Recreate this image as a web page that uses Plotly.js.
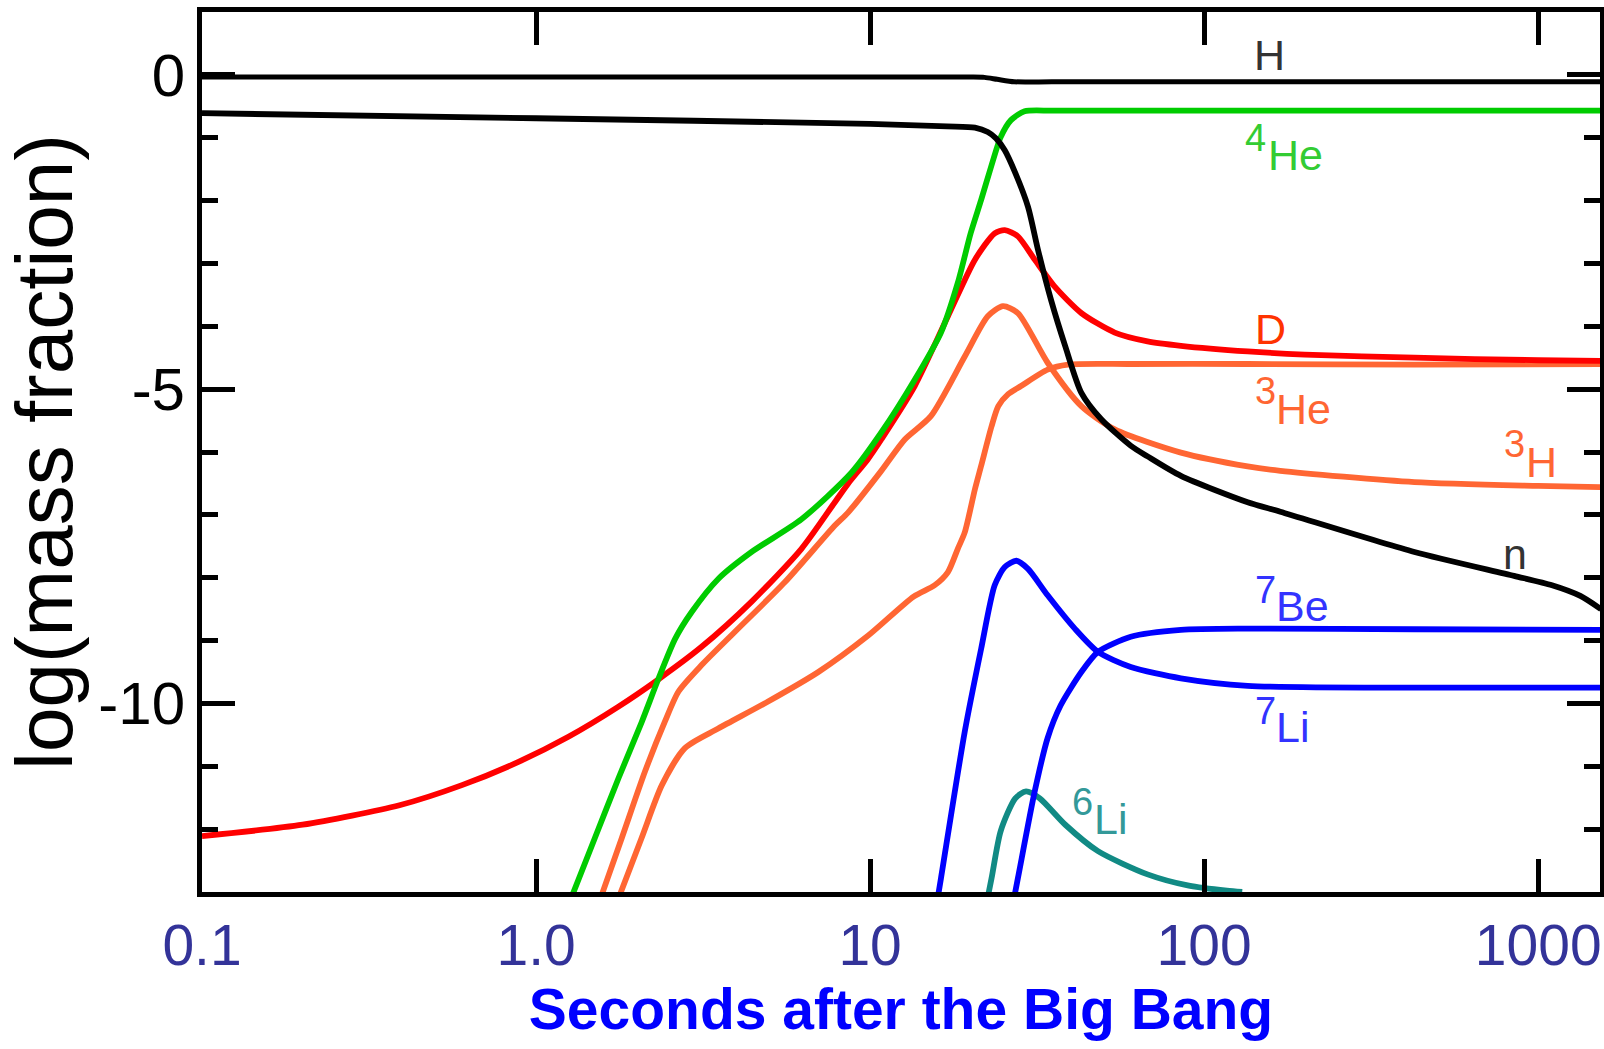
<!DOCTYPE html>
<html>
<head>
<meta charset="utf-8">
<script src="https://cdn.plot.ly/plotly-3.0.1.min.js"></script>
<style>
  html, body { margin: 0; padding: 0; background: #ffffff; }
  #chart { width: 1604px; height: 1049px; }
</style>
</head>
<body>
<div id="chart"></div>
<script>
// ---- data (time in seconds, value = log10 mass fraction) ----
const tH   = [0.1, 1, 10, 20, 22, 24, 27, 35, 100, 500, 1541];
const vH   = [-0.035, -0.035, -0.035, -0.035, -0.04, -0.07, -0.11, -0.11, -0.11, -0.11, -0.11];

const tN   = [0.1, 1, 10, 17, 20.6, 22.5, 23.8, 25.3, 27.2, 29.7, 31.8, 34.8, 38.4, 42.9, 49.2, 60.3, 67.7, 85.2, 135, 169, 426, 847, 1100, 1337, 1541];
const vN   = [-0.61, -0.69, -0.78, -0.82, -0.84, -0.91, -1.01, -1.20, -1.56, -2.10, -2.78, -3.58, -4.32, -5.06, -5.48, -5.90, -6.07, -6.38, -6.80, -6.95, -7.59, -7.97, -8.12, -8.29, -8.50];

const tHe4 = [1.21, 1.50, 1.765, 2.07, 2.32, 2.61, 2.92, 3.51, 4.42, 6.23, 8.79, 10.8, 13.6, 16.3, 18.3, 20.0, 21.5, 23.0, 24.6, 26.4, 29.0, 35, 60, 150, 500, 1541];
const vHe4 = [-13.4, -12.14, -11.19, -10.30, -9.62, -8.97, -8.55, -8.02, -7.59, -7.07, -6.33, -5.69, -4.85, -4.10, -3.31, -2.52, -1.99, -1.47, -0.99, -0.72, -0.58, -0.57, -0.57, -0.57, -0.57, -0.57];

const tD   = [0.1, 0.2, 0.39, 0.6, 0.886, 1.25, 1.765, 2.32, 3.13, 4.42, 6.23, 7.84, 8.6, 9.86, 10.8, 13.6, 17.1, 20.6, 23.6, 25.3, 27.7, 31.1, 35.7, 42.9, 54, 67.7, 85.2, 135, 200, 426, 1000, 1541];
const vD   = [-12.11, -11.93, -11.62, -11.3, -10.93, -10.53, -10.05, -9.62, -9.10, -8.38, -7.54, -6.80, -6.50, -6.11, -5.80, -4.95, -3.84, -2.94, -2.52, -2.47, -2.57, -2.94, -3.37, -3.79, -4.10, -4.24, -4.31, -4.40, -4.45, -4.50, -4.54, -4.55];

const tH3  = [1.49, 1.806, 2.12, 2.43, 2.67, 3.13, 3.94, 5.56, 7.84, 8.6, 10.8, 12.7, 15.2, 19.2, 22.5, 25.0, 27.7, 34.0, 42.9, 54, 85.2, 135, 169, 426, 1000, 1541];
const vH3  = [-13.4, -12.14, -11.08, -10.29, -9.81, -9.39, -8.86, -8.07, -7.17, -6.96, -6.30, -5.80, -5.43, -4.48, -3.84, -3.68, -3.79, -4.58, -5.27, -5.64, -6.01, -6.23, -6.30, -6.48, -6.54, -6.56];

const tHe3 = [1.68, 2.07, 2.38, 2.79, 3.51, 4.95, 7.0, 9.87, 13.5, 15.6, 17.1, 18.3, 19.2, 20.6, 21.5, 23.1, 24.2, 25.9, 28.3, 34.0, 39.1, 60, 135, 426, 1541];
const vHe3 = [-13.4, -12.14, -11.30, -10.71, -10.40, -9.97, -9.50, -8.92, -8.30, -8.12, -7.91, -7.54, -7.28, -6.59, -6.22, -5.59, -5.27, -5.08, -4.95, -4.69, -4.61, -4.60, -4.60, -4.61, -4.60];

const tLi7 = [15.6, 16.3, 19.2, 21.5, 23.6, 25.3, 27.4, 29.7, 34.0, 41.0, 48.1, 60.3, 85.2, 135, 426, 1541];
const vLi7 = [-13.4, -12.78, -10.45, -9.13, -8.12, -7.83, -7.73, -7.86, -8.28, -8.81, -9.18, -9.42, -9.60, -9.72, -9.75, -9.75];

const tBe7 = [26.3, 27.7, 31.1, 34.0, 37.2, 42.9, 48.1, 60.3, 85.2, 135, 426, 1541];
const vBe7 = [-13.4, -12.78, -11.40, -10.55, -10.03, -9.50, -9.18, -8.94, -8.83, -8.81, -8.82, -8.83];

const tLi6 = [21.9, 23.1, 24.6, 27.2, 29.3, 32.2, 38.4, 48.1, 67.7, 90, 117, 130];
const vLi6 = [-13.4, -12.78, -12.03, -11.51, -11.40, -11.51, -11.93, -12.35, -12.72, -12.90, -12.98, -13.0];

const xTickVals = [0.1, 1, 10, 100, 1000];
const xTickText = ['0.1', '1.0', '10', '100', '1000'];
const yTickVals = [0, -5, -10];
const yTickText = ['0', '-5', '-10'];

// isotope labels: mass number + element symbol (positions in log10 t / log mass fraction)
const labelNums  = ['4', '3', '3', '7', '7', '6'];
const labelElems = ['He', 'He', 'H', 'Be', 'Li', 'Li'];
const labelColors = ['#33cc33', '#ff6633', '#ff6633', '#3333ff', '#3333ff', '#339999'];
const labelNumX  = [2.192, 2.220, 2.967, 2.220, 2.220, 1.673];
const labelNumY  = [-1.00, -5.03, -5.87, -8.20, -10.12, -11.57];
const labelElX   = [2.184, 2.209, 2.958, 2.209, 2.209, 1.664];
const labelElY   = [-1.27, -5.32, -6.16, -8.45, -10.37, -11.84];

const plainLabels = ['H', 'D', 'n'];
const plainColors = ['#333333', '#ff3300', '#333333'];
const plainX = [2.196, 2.199, 2.931];
const plainY = [0.31, -4.05, -7.62];

const FONT = 'Liberation Sans, Arial, Helvetica, sans-serif';
const LW = 5.8;

function line(t, v, color, name, w) {
  return { x: t, y: v, type: 'scatter', mode: 'lines', name: name,
           line: { color: color, width: w || LW, shape: 'spline', smoothing: 0.7 },
           hoverinfo: 'x+y+name' };
}

const traces = [
  line(tHe3, vHe3, '#ff6633', '3He'),
  line(tH3,  vH3,  '#ff6633', '3H'),
  line(tD,   vD,   '#ff0000', 'D'),
  line(tHe4, vHe4, '#00cc00', '4He'),
  line(tLi6, vLi6, '#118a84', '6Li'),
  line(tLi7, vLi7, '#0000ff', '7Li'),
  line(tBe7, vBe7, '#0000ff', '7Be'),
  line(tN,   vN,   '#000000', 'n'),
  line(tH,   vH,   '#000000', 'H', 5)
];

const annotations = [];
for (let i = 0; i < labelNums.length; i++) {
  annotations.push({ x: labelNumX[i], y: labelNumY[i], xref: 'x', yref: 'y', text: labelNums[i],
    showarrow: false, xanchor: 'right', yanchor: 'middle',
    font: { family: FONT, size: 38, color: labelColors[i] } });
  annotations.push({ x: labelElX[i], y: labelElY[i], xref: 'x', yref: 'y', text: labelElems[i],
    showarrow: false, xanchor: 'left', yanchor: 'middle',
    font: { family: FONT, size: 43, color: labelColors[i] } });
}
for (let i = 0; i < plainLabels.length; i++) {
  annotations.push({ x: plainX[i], y: plainY[i], xref: 'x', yref: 'y', text: plainLabels[i],
    showarrow: false, xanchor: 'center', yanchor: 'middle',
    font: { family: FONT, size: 43, color: plainColors[i] } });
}

const layout = {
  width: 1604, height: 1049,
  margin: { l: 202, r: 4, t: 12, b: 157, pad: 0 },
  paper_bgcolor: '#ffffff', plot_bgcolor: '#ffffff',
  showlegend: false,
  font: { family: FONT, color: '#000000' },
  xaxis: {
    type: 'log', range: [-1, 3.185], autorange: false,
    showline: true, linecolor: '#000000', linewidth: 5, mirror: 'ticks',
    ticks: 'inside', ticklen: 33, tickwidth: 5, tickcolor: '#000000',
    tickvals: xTickVals, ticktext: xTickText,
    tickfont: { family: FONT, size: 57, color: '#333399' },
    showgrid: false, zeroline: false,
    title: { text: 'Seconds after the Big Bang', standoff: 14,
             font: { family: FONT, size: 57, color: '#0000ff', weight: 'bold' } }
  },
  yaxis: {
    range: [-13, 1.0], autorange: false,
    showline: true, linecolor: '#000000', linewidth: 5, mirror: 'ticks',
    ticks: 'inside', ticklen: 33, tickwidth: 5, tickcolor: '#000000',
    tickvals: yTickVals, ticktext: yTickText,
    minor: { dtick: 1, tick0: 0, ticks: 'inside', ticklen: 16, tickwidth: 5, tickcolor: '#000000', showgrid: false },
    tickfont: { family: FONT, size: 60, color: '#000000' },
    showgrid: false, zeroline: false,
    title: { text: 'log(mass fraction)', standoff: 12,
             font: { family: FONT, size: 80, color: '#000000' } }
  },
  annotations: annotations
};

Plotly.newPlot('chart', traces, layout, { displayModeBar: false });
</script>
</body>
</html>
